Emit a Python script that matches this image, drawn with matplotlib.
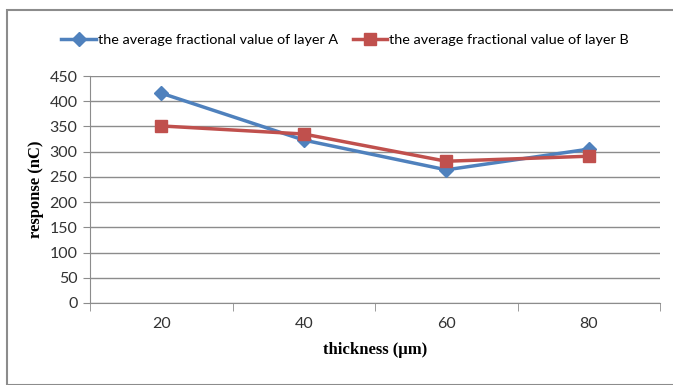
import matplotlib
matplotlib.use("Agg")
import matplotlib.pyplot as plt
from matplotlib.patches import Rectangle

# data
thickness = ["20", "40", "60", "80"]
layer_a = [416, 323, 264, 305]
layer_b = [351, 335, 281, 291]
y_ticks = list(range(0, 451, 50))

blue = "#4F81BD"
red = "#C0504D"
grid_col = "#8C8C8C"

fig = plt.figure(figsize=(6.73, 3.85), dpi=100)
ax = fig.add_axes([90 / 673, 1 - 303 / 385, 570 / 673, 227 / 385])

x = list(range(len(thickness)))
ax.plot(x, layer_a, color=blue, lw=2.5, marker="D", ms=7,
        label="the average fractional value of layer A")
ax.plot(x, layer_b, color=red, lw=2.5, marker="s", ms=9,
        label="the average fractional value of layer B")

ax.set_xlim(-0.5, len(thickness) - 0.5)
ax.set_ylim(0, 450)
ax.set_yticks(y_ticks)
ax.set_xticks(x)
ax.set_xticklabels(thickness)
# category boundaries as tick marks
ax.set_xticks([i - 0.5 for i in range(len(thickness) + 1)], minor=True)
ax.tick_params(axis="x", which="major", length=0, pad=10)
ax.tick_params(axis="x", which="minor", length=6, color=grid_col)
ax.tick_params(axis="y", length=5, color=grid_col, pad=4)
for lbl in ax.get_xticklabels() + ax.get_yticklabels():
    lbl.set_fontfamily("Lato")
    lbl.set_fontsize(11.5)
    lbl.set_color("#333333")

ax.grid(axis="y", color=grid_col, lw=1)
ax.set_axisbelow(True)
for side in ["top", "right"]:
    ax.spines[side].set_visible(False)
ax.spines["left"].set_color(grid_col)
ax.spines["bottom"].set_color(grid_col)

ax.set_xlabel("thickness (\u00b5m)", fontfamily="Liberation Serif",
              fontweight="bold", fontsize=12, labelpad=8)
ax.set_ylabel("response (nC)", fontfamily="Liberation Serif",
              fontweight="bold", fontsize=12, labelpad=4)

fig.legend(loc="center", bbox_to_anchor=(0.513, 1 - 40 / 385), ncol=2,
           frameon=False, prop={"family": "Lato", "size": 10.4},
           handlelength=2.4, handletextpad=0.15, columnspacing=1.0)

fig.patches.append(Rectangle((7 / 673, 0), 1, 1 - 10 / 385,
                             transform=fig.transFigure, fill=False,
                             edgecolor="#8C8C8C", lw=1.5))

fig.savefig("out.png", dpi=100)
